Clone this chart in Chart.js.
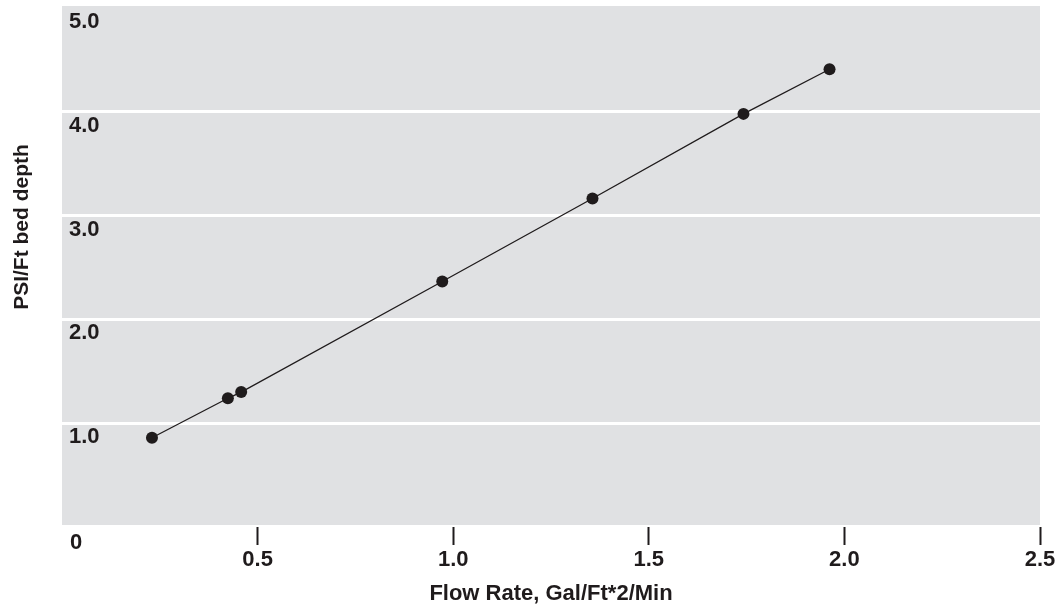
<!DOCTYPE html>
<html>
<head>
<meta charset="utf-8">
<script src="https://cdn.jsdelivr.net/npm/chart.js@4.4.1/dist/chart.umd.min.js"></script>
<style>
  html, body { margin: 0; padding: 0; background: #fff; }
</style>
</head>
<body>
<canvas id="chart" width="1060" height="610"></canvas>
<script>
// data
const flowRate = [0.23, 0.424, 0.458, 0.972, 1.356, 1.742, 1.962];
const psiPerFt = [0.86, 1.24, 1.30, 2.365, 3.165, 3.98, 4.41];
const xTicks = [0, 0.5, 1.0, 1.5, 2.0, 2.5];
const yTicks = [1.0, 2.0, 3.0, 4.0, 5.0];
const xTitle = 'Flow Rate, Gal/Ft*2/Min';
const yTitle = 'PSI/Ft bed depth';

const ink = '#1f1b1c';
const plotGray = '#e0e1e3';
const fontFamily = '"Liberation Sans", Arial, Helvetica, sans-serif';
const font = { family: fontFamily, size: 22, weight: 'bold' };

// grey plot panel behind everything
const panelPlugin = {
  id: 'panel',
  beforeDraw(chart) {
    const { ctx, chartArea: a } = chart;
    ctx.save();
    ctx.fillStyle = plotGray;
    ctx.fillRect(a.left, a.top - 2, a.right - a.left, a.bottom - a.top);
    ctx.restore();
  }
};

// axis titles and the lone "0" in the corner
const labelsPlugin = {
  id: 'labels',
  afterDraw(chart) {
    const { ctx, chartArea: a } = chart;
    ctx.save();
    ctx.fillStyle = ink;
    ctx.textBaseline = 'middle';

    ctx.font = `bold 22px ${fontFamily}`;
    ctx.textAlign = 'left';
    ctx.fillText('0', a.left + 8, a.bottom + 16);

    ctx.textAlign = 'center';
    ctx.fillText(xTitle, (a.left + a.right) / 2, 594);

    ctx.font = `bold 21px ${fontFamily}`;
    ctx.translate(22, 227);
    ctx.rotate(-Math.PI / 2);
    ctx.fillText(yTitle, 0, 0);
    ctx.restore();
  }
};

new Chart(document.getElementById('chart'), {
  type: 'scatter',
  data: {
    datasets: [{
      data: flowRate.map((x, i) => ({ x: x, y: psiPerFt[i] })),
      showLine: true,
      borderColor: ink,
      borderWidth: 1.3,
      backgroundColor: ink,
      pointRadius: 6,
      pointBorderWidth: 0
    }]
  },
  options: {
    responsive: false,
    animation: false,
    layout: { padding: { left: 62, top: 8, right: 20, bottom: 0 } },
    plugins: {
      legend: { display: false },
      tooltip: { enabled: false }
    },
    scales: {
      x: {
        type: 'linear',
        min: 0,
        max: 2.5,
        afterBuildTicks: (s) => { s.ticks = xTicks.map(v => ({ value: v })); },
        afterFit: (s) => { s.height = 83; s.paddingLeft = 0; s.paddingRight = 0; },
        border: { display: false },
        grid: {
          drawOnChartArea: false,
          drawTicks: true,
          tickLength: 18,
          tickWidth: 2,
          tickColor: (c) => (c.tick && c.tick.value === 0 ? 'rgba(0,0,0,0)' : ink)
        },
        ticks: {
          color: ink,
          font: font,
          padding: 2,
          maxRotation: 0,
          callback: (v) => (v === 0 ? '' : v.toFixed(1))
        }
      },
      y: {
        min: 0,
        max: 5,
        afterBuildTicks: (s) => { s.ticks = yTicks.map(v => ({ value: v })); },
        afterFit: (s) => { s.width = 0; s.paddingTop = 0; s.paddingBottom = 0; },
        border: { display: false },
        grid: {
          drawTicks: false,
          lineWidth: 3,
          color: (c) => (c.tick && c.tick.value === 5 ? 'rgba(0,0,0,0)' : '#ffffff')
        },
        ticks: {
          mirror: true,
          padding: 7,
          labelOffset: 14,
          color: ink,
          font: font,
          callback: (v) => v.toFixed(1)
        }
      }
    }
  },
  plugins: [panelPlugin, labelsPlugin]
});
</script>
</body>
</html>
